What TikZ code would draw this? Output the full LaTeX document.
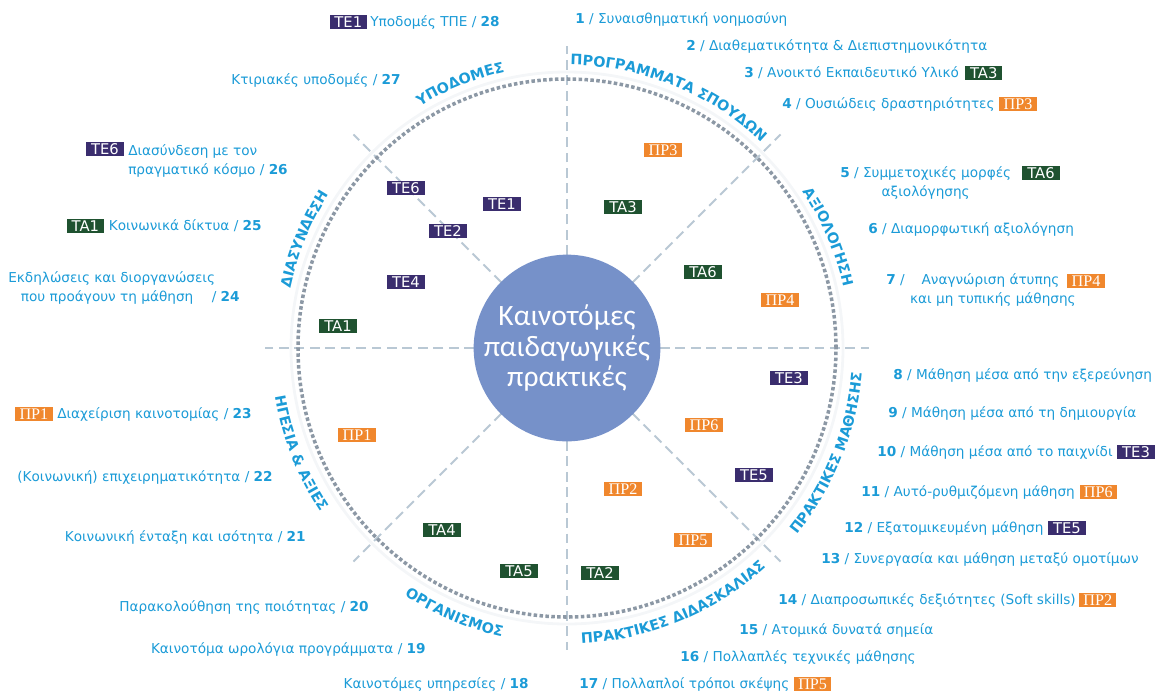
\documentclass[tikz,border=0pt]{standalone}
\usepackage{fontspec}
\setmainfont{DejaVu Sans}
\newfontfamily\hubfont{Carlito}
\newfontfamily\tagserif{Liberation Serif}
\usetikzlibrary{positioning, calc, decorations.text}

\definecolor{txtblue}{RGB}{27,155,215}
\definecolor{tepurple}{RGB}{58,45,110}
\definecolor{tagreen}{RGB}{31,82,48}
\definecolor{prorange}{RGB}{240,135,45}
\definecolor{hubblue}{RGB}{118,145,201}
\definecolor{spokegray}{RGB}{185,200,212}
\definecolor{ringgray}{RGB}{140,152,165}
\definecolor{ringfaint}{RGB}{244,246,248}

\newcommand{\ringfont}{\fontsize{10.2}{12}\selectfont\bfseries}

\begin{document}
\begin{tikzpicture}[x=0.025cm, y=0.025cm,
    lbl/.style={text=txtblue, inner sep=0pt, font=\fontsize{9.7}{13.5}\selectfont},
    tagbox/.style={text=white, minimum width=26.5pt, minimum height=10.6pt, inner sep=0pt, font=\fontsize{10.5}{10}\selectfont},
    te/.style={tagbox, fill=tepurple},
    ta/.style={tagbox, fill=tagreen},
    pr/.style={tagbox, fill=prorange, font=\tagserif\fontsize{11.5}{10}\selectfont},
    spoke/.style={draw=spokegray, line width=1.4pt, dash pattern=on 7pt off 4pt},
    ring/.style={draw=ringgray, line width=2.5pt, dash pattern=on 2.5pt off 1.7pt},
    hub/.style={circle, fill=hubblue, minimum size=4.65cm, inner sep=0pt, text=white, align=center, font=\hubfont\fontsize{21}{21.5}\selectfont},
    ringtext/.style={decorate, decoration={text along path, text align=center, text color=txtblue, text={|\ringfont|#1}}}
]
\useasboundingbox (0,0) rectangle (1157,-691);

% wheel
\coordinate (c) at (567,-348);
\foreach \a in {0,45,...,315}
    \draw[spoke] (c) -- ($(c)+(\a:302)$);
\draw[ringfaint, line width=2pt] (c) circle[radius=276];
\draw[ring] (c) circle[radius=269];
\node[hub] (hub) at (c) {Καινοτόμες\\παιδαγωγικές\\πρακτικές};

% sector titles - upper ones clockwise, lower ones counter-clockwise
\path[ringtext={ΥΠΟΔΟΜΕΣ}] ($(c)+(147:283)$) arc[start angle=147, end angle=77, radius=283];
\path[ringtext={ΠΡΟΓΡΑΜΜΑΤΑ ΣΠΟΥΔΩΝ}] ($(c)+(103:283)$) arc[start angle=103, end angle=33, radius=283];
\path[ringtext={ΑΞΙΟΛΟΓΗΣΗ}] ($(c)+(58:283)$) arc[start angle=58, end angle=-12, radius=283];
\path[ringtext={ΔΙΑΣΥΝΔΕΣΗ}] ($(c)+(192.5:283)$) arc[start angle=192.5, end angle=122.5, radius=283];
\path[ringtext={ΠΡΑΚΤΙΚΕΣ ΜΑΘΗΣΗΣ}] ($(c)+(-57:296)$) arc[start angle=-57, end angle=13, radius=296];
\path[ringtext={ΠΡΑΚΤΙΚΕΣ ΔΙΔΑΣΚΑΛΙΑΣ}] ($(c)+(-102.5:296)$) arc[start angle=-102.5, end angle=-32.5, radius=296];
\path[ringtext={ΟΡΓΑΝΙΣΜΟΣ}] ($(c)+(-148:296)$) arc[start angle=-148, end angle=-78, radius=296];
\path[ringtext={ΗΓΕΣΙΑ {\&} ΑΞΙΕΣ}] ($(c)+(166.5:296)$) arc[start angle=166.5, end angle=236.5, radius=296];

% tags inside the wheel
\node[pr] (w-pr3) at (663,-150) {ΠΡ3};
\node[ta] (w-ta3) at (623,-207) {TA3};
\node[te] (w-te6) at (406,-188) {TE6};
\node[te] (w-te1) at (502,-204) {TE1};
\node[te] (w-te2) at (448,-231) {TE2};
\node[te] (w-te4) at (406,-282) {TE4};
\node[ta] (w-ta1) at (338,-326) {TA1};
\node[ta] (w-ta6) at (703,-272) {TA6};
\node[pr] (w-pr4) at (780,-300) {ΠΡ4};
\node[te] (w-te3) at (789,-378) {TE3};
\node[pr] (w-pr6) at (704,-425) {ΠΡ6};
\node[pr] (w-pr1) at (357,-435) {ΠΡ1};
\node[te] (w-te5) at (754,-475) {TE5};
\node[pr] (w-pr2) at (623,-489) {ΠΡ2};
\node[pr] (w-pr5) at (693,-540) {ΠΡ5};
\node[ta] (w-ta2) at (600,-573) {TA2};
\node[ta] (w-ta4) at (442,-530) {TA4};
\node[ta] (w-ta5) at (519,-571) {TA5};

% left column (28 -> 18)
\node[lbl, anchor=east] (l28) at (500,-22) {Υποδομές ΤΠΕ / \textbf{28}};
\node[te, left=2pt of l28] (k28) {TE1};
\node[lbl, anchor=east] (l27) at (401,-80) {Κτιριακές υποδομές / \textbf{27}};
\node[lbl, anchor=west, align=left] (l26) at (128,-161) {Διασύνδεση με τον\\πραγματικό κόσμο / \textbf{26}};
\node[te] (k26) at (105,-149) {TE6};
\node[lbl, anchor=east] (l25) at (262,-226) {Κοινωνικά δίκτυα / \textbf{25}};
\node[ta, left=3pt of l25] (k25) {TA1};
\node[lbl, anchor=west, align=left] (l24) at (8,-288) {Εκδηλώσεις και διοργανώσεις\\\hspace*{9pt}που προάγουν τη μάθηση\hspace{10pt} / \textbf{24}};
\node[lbl, anchor=east] (l23) at (252,-414) {Διαχείριση καινοτομίας / \textbf{23}};
\node[pr, left=3pt of l23] (k23) {ΠΡ1};
\node[lbl, anchor=east] (l22) at (273,-477) {(Κοινωνική) επιχειρηματικότητα / \textbf{22}};
\node[lbl, anchor=east] (l21) at (306,-537) {Κοινωνική ένταξη και ισότητα / \textbf{21}};
\node[lbl, anchor=east] (l20) at (369,-607) {Παρακολούθηση της ποιότητας / \textbf{20}};
\node[lbl, anchor=east] (l19) at (426,-649) {Καινοτόμα ωρολόγια προγράμματα / \textbf{19}};
\node[lbl, anchor=east] (l18) at (529,-684) {Καινοτόμες υπηρεσίες / \textbf{18}};

% right column (1 -> 17)
\node[lbl, anchor=west] (r1) at (575,-19) {\textbf{1} / Συναισθηματική νοημοσύνη};
\node[lbl, anchor=west] (r2) at (686,-46) {\textbf{2} / Διαθεματικότητα \& Διεπιστημονικότητα};
\node[lbl, anchor=west] (r3) at (744,-73) {\textbf{3} / Ανοικτό Εκπαιδευτικό Υλικό};
\node[ta, right=4pt of r3] (k3) {TA3};
\node[lbl, anchor=west] (r4) at (782,-104) {\textbf{4} / Ουσιώδεις δραστηριότητες};
\node[pr, right=3pt of r4] (k4) {ΠΡ3};
\node[lbl, anchor=west, align=center] (r5) at (840,-183) {\textbf{5} / Συμμετοχικές μορφές\\αξιολόγησης};
\node[ta] (k5) at (1041,-173) {TA6};
\node[lbl, anchor=west] (r6) at (868,-229) {\textbf{6} / Διαμορφωτική αξιολόγηση};
\node[lbl, anchor=west, align=left] (r7) at (886,-290) {\textbf{7} /\hspace{12pt}Αναγνώριση άτυπης\\\hspace*{17pt}και μη τυπικής μάθησης};
\node[pr] (k7) at (1086,-281) {ΠΡ4};
\node[lbl, anchor=west] (r8) at (893,-375) {\textbf{8} / Μάθηση μέσα από την εξερεύνηση};
\node[lbl, anchor=west] (r9) at (888,-413) {\textbf{9} / Μάθηση μέσα από τη δημιουργία};
\node[lbl, anchor=west] (r10) at (877,-452) {\textbf{10} / Μάθηση μέσα από το παιχνίδι};
\node[te, right=3pt of r10] (k10) {TE3};
\node[lbl, anchor=west] (r11) at (861,-492) {\textbf{11} / Αυτό-ρυθμιζόμενη μάθηση};
\node[pr, right=3pt of r11] (k11) {ΠΡ6};
\node[lbl, anchor=west] (r12) at (844,-528) {\textbf{12} / Εξατομικευμένη μάθηση};
\node[te, right=3pt of r12] (k12) {TE5};
\node[lbl, anchor=west] (r13) at (821,-559) {\textbf{13} / Συνεργασία και μάθηση μεταξύ ομοτίμων};
\node[lbl, anchor=west] (r14) at (778,-600) {\textbf{14} / Διαπροσωπικές δεξιότητες (Soft skills)};
\node[pr, right=2pt of r14] (k14) {ΠΡ2};
\node[lbl, anchor=west] (r15) at (739,-630) {\textbf{15} / Ατομικά δυνατά σημεία};
\node[lbl, anchor=west] (r16) at (680,-657) {\textbf{16} / Πολλαπλές τεχνικές μάθησης};
\node[lbl, anchor=west] (r17) at (579,-684) {\textbf{17} / Πολλαπλοί τρόποι σκέψης};
\node[pr, right=3pt of r17] (k17) {ΠΡ5};

\end{tikzpicture}
\end{document}
